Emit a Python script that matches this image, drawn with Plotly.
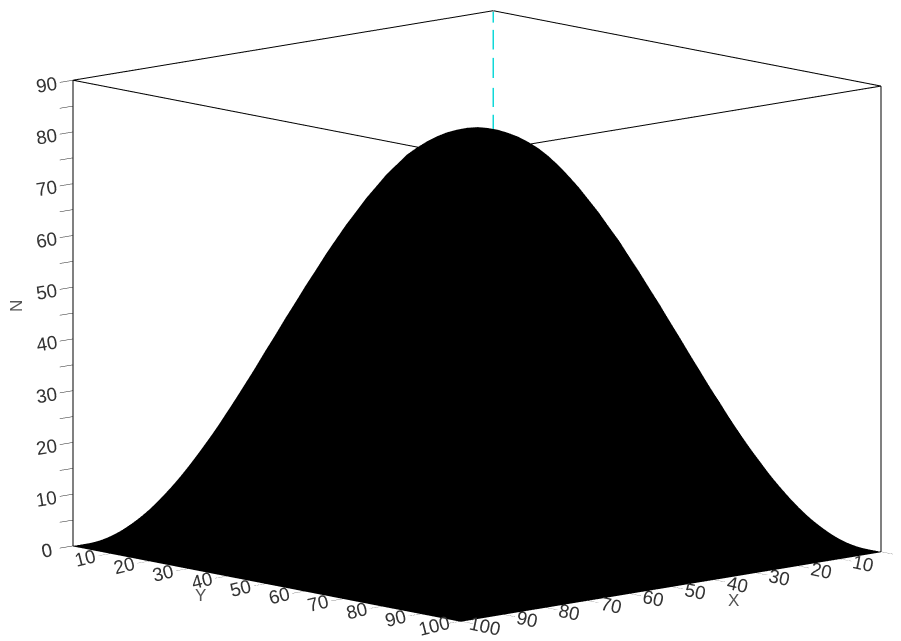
import plotly.graph_objects as go

x_values = [0, 2.5, 5, 7.5, 10, 12.5, 15, 17.5, 20, 22.5, 25, 27.5, 30, 32.5, 35, 37.5, 40, 42.5, 45, 47.5, 50, 52.5, 55, 57.5, 60, 62.5, 65, 67.5, 70, 72.5, 75, 77.5, 80, 82.5, 85, 87.5, 90, 92.5, 95, 97.5, 100]
y_values = [0, 2.5, 5, 7.5, 10, 12.5, 15, 17.5, 20, 22.5, 25, 27.5, 30, 32.5, 35, 37.5, 40, 42.5, 45, 47.5, 50, 52.5, 55, 57.5, 60, 62.5, 65, 67.5, 70, 72.5, 75, 77.5, 80, 82.5, 85, 87.5, 90, 92.5, 95, 97.5, 100]
n_values = [
 [0]*41,
 [0,.5,1.0,1.5,2.0,2.5,2.9,3.4,3.8,4.2,4.5,4.9,5.2,5.5,5.7,5.9,6.1,6.2,6.3,6.4,6.4,6.4,6.3,6.2,6.1,5.9,5.7,5.5,5.2,4.9,4.5,4.2,3.8,3.4,2.9,2.5,2.0,1.5,1.0,.5,0],
 [0,1.0,2.0,3.0,4.0,4.9,5.8,6.7,7.5,8.3,9.0,9.7,10.3,10.9,11.4,11.8,12.2,12.4,12.6,12.8,12.8,12.8,12.6,12.4,12.2,11.8,11.4,10.9,10.3,9.7,9.0,8.3,7.5,6.7,5.8,4.9,4.0,3.0,2.0,1.0,0],
 [0,1.5,3.0,4.5,5.9,7.3,8.7,10.0,11.2,12.4,13.5,14.5,15.4,16.3,17.0,17.6,18.2,18.6,18.9,19.0,19.1,19.0,18.9,18.6,18.2,17.6,17.0,16.3,15.4,14.5,13.5,12.4,11.2,10.0,8.7,7.3,5.9,4.5,3.0,1.5,0],
 [0,2.0,4.0,5.9,7.8,9.7,11.5,13.2,14.9,16.4,17.9,19.2,20.5,21.6,22.5,23.4,24.0,24.6,25.0,25.2,25.3,25.2,25.0,24.6,24.0,23.4,22.5,21.6,20.5,19.2,17.9,16.4,14.9,13.2,11.5,9.7,7.8,5.9,4.0,2.0,0],
 [0,2.5,4.9,7.3,9.7,12.0,14.2,16.4,18.4,20.3,22.1,23.8,25.3,26.7,27.9,28.9,29.8,30.4,30.9,31.2,31.3,31.2,30.9,30.4,29.8,28.9,27.9,26.7,25.3,23.8,22.1,20.3,18.4,16.4,14.2,12.0,9.7,7.3,4.9,2.5,0],
 [0,2.9,5.8,8.7,11.5,14.2,16.9,19.4,21.8,24.1,26.3,28.2,30.0,31.7,33.1,34.3,35.3,36.1,36.7,37.0,37.1,37.0,36.7,36.1,35.3,34.3,33.1,31.7,30.0,28.2,26.3,24.1,21.8,19.4,16.9,14.2,11.5,8.7,5.8,2.9,0],
 [0,3.4,6.7,10.0,13.2,16.4,19.4,22.3,25.1,27.8,30.2,32.5,34.6,36.4,38.1,39.5,40.6,41.6,42.2,42.6,42.7,42.6,42.2,41.6,40.6,39.5,38.1,36.4,34.6,32.5,30.2,27.8,25.1,22.3,19.4,16.4,13.2,10.0,6.7,3.4,0],
 [0,3.8,7.5,11.2,14.9,18.4,21.8,25.1,28.3,31.2,34.0,36.6,38.9,41.0,42.8,44.4,45.7,46.8,47.5,47.9,48.1,47.9,47.5,46.8,45.7,44.4,42.8,41.0,38.9,36.6,34.0,31.2,28.3,25.1,21.8,18.4,14.9,11.2,7.5,3.8,0],
 [0,4.2,8.3,12.4,16.4,20.3,24.1,27.8,31.2,34.5,37.6,40.4,43.0,45.3,47.3,49.1,50.5,51.7,52.5,53.0,53.1,53.0,52.5,51.7,50.5,49.1,47.3,45.3,43.0,40.4,37.6,34.5,31.2,27.8,24.1,20.3,16.4,12.4,8.3,4.2,0],
 [0,4.5,9.0,13.5,17.9,22.1,26.3,30.2,34.0,37.6,40.9,44.0,46.8,49.3,51.5,53.4,55.0,56.2,57.1,57.7,57.8,57.7,57.1,56.2,55.0,53.4,51.5,49.3,46.8,44.0,40.9,37.6,34.0,30.2,26.3,22.1,17.9,13.5,9.0,4.5,0],
 [0,4.9,9.7,14.5,19.2,23.8,28.2,32.5,36.6,40.4,44.0,47.3,50.3,53.0,55.4,57.5,59.2,60.5,61.4,62.0,62.2,62.0,61.4,60.5,59.2,57.5,55.4,53.0,50.3,47.3,44.0,40.4,36.6,32.5,28.2,23.8,19.2,14.5,9.7,4.9,0],
 [0,5.2,10.3,15.4,20.5,25.3,30.0,34.6,38.9,43.0,46.8,50.3,53.5,56.4,59.0,61.1,62.9,64.4,65.4,66.0,66.2,66.0,65.4,64.4,62.9,61.1,59.0,56.4,53.5,50.3,46.8,43.0,38.9,34.6,30.0,25.3,20.5,15.4,10.3,5.2,0],
 [0,5.5,10.9,16.3,21.6,26.7,31.7,36.4,41.0,45.3,49.3,53.0,56.4,59.5,62.1,64.4,66.3,67.8,68.9,69.5,69.7,69.5,68.9,67.8,66.3,64.4,62.1,59.5,56.4,53.0,49.3,45.3,41.0,36.4,31.7,26.7,21.6,16.3,10.9,5.5,0],
 [0,5.7,11.4,17.0,22.5,27.9,33.1,38.1,42.8,47.3,51.5,55.4,59.0,62.1,64.9,67.3,69.3,70.9,72.0,72.7,72.9,72.7,72.0,70.9,69.3,67.3,64.9,62.1,59.0,55.4,51.5,47.3,42.8,38.1,33.1,27.9,22.5,17.0,11.4,5.7,0],
 [0,5.9,11.8,17.6,23.4,28.9,34.3,39.5,44.4,49.1,53.4,57.5,61.1,64.4,67.3,69.8,71.9,73.5,74.6,75.3,75.6,75.3,74.6,73.5,71.9,69.8,67.3,64.4,61.1,57.5,53.4,49.1,44.4,39.5,34.3,28.9,23.4,17.6,11.8,5.9,0],
 [0,6.1,12.2,18.2,24.0,29.8,35.3,40.6,45.7,50.5,55.0,59.2,62.9,66.3,69.3,71.9,74.0,75.7,76.8,77.6,77.8,77.6,76.8,75.7,74.0,71.9,69.3,66.3,62.9,59.2,55.0,50.5,45.7,40.6,35.3,29.8,24.0,18.2,12.2,6.1,0],
 [0,6.2,12.4,18.6,24.6,30.4,36.1,41.6,46.8,51.7,56.2,60.5,64.4,67.8,70.9,73.5,75.7,77.1,78.3,79.0,79.2,79.0,78.3,77.1,75.7,73.5,70.9,67.8,64.4,60.5,56.2,51.7,46.8,41.6,36.1,30.4,24.6,18.6,12.4,6.2,0],
 [0,6.3,12.6,18.9,25.0,30.9,36.7,42.2,47.5,52.5,57.1,61.4,65.4,68.9,72.0,74.6,76.8,78.3,79.4,80.1,80.3,80.1,79.4,78.3,76.8,74.6,72.0,68.9,65.4,61.4,57.1,52.5,47.5,42.2,36.7,30.9,25.0,18.9,12.6,6.3,0],
 [0,6.4,12.8,19.0,25.2,31.2,37.0,42.6,47.9,53.0,57.7,62.0,66.0,69.5,72.7,75.3,77.6,79.0,80.1,80.8,81.0,80.8,80.1,79.0,77.6,75.3,72.7,69.5,66.0,62.0,57.7,53.0,47.9,42.6,37.0,31.2,25.2,19.0,12.8,6.4,0],
 [0,6.4,12.8,19.1,25.3,31.3,37.1,42.7,48.1,53.1,57.8,62.2,66.2,69.7,72.9,75.6,77.8,79.2,80.3,81.0,81.2,81.0,80.3,79.2,77.8,75.6,72.9,69.7,66.2,62.2,57.8,53.1,48.1,42.7,37.1,31.3,25.3,19.1,12.8,6.4,0],
 [0,6.4,12.8,19.0,25.2,31.2,37.0,42.6,47.9,53.0,57.7,62.0,66.0,69.5,72.7,75.3,77.6,79.0,80.1,80.8,81.0,80.8,80.1,79.0,77.6,75.3,72.7,69.5,66.0,62.0,57.7,53.0,47.9,42.6,37.0,31.2,25.2,19.0,12.8,6.4,0],
 [0,6.3,12.6,18.9,25.0,30.9,36.7,42.2,47.5,52.5,57.1,61.4,65.4,68.9,72.0,74.6,76.8,78.3,79.4,80.1,80.3,80.1,79.4,78.3,76.8,74.6,72.0,68.9,65.4,61.4,57.1,52.5,47.5,42.2,36.7,30.9,25.0,18.9,12.6,6.3,0],
 [0,6.2,12.4,18.6,24.6,30.4,36.1,41.6,46.8,51.7,56.2,60.5,64.4,67.8,70.9,73.5,75.7,77.1,78.3,79.0,79.2,79.0,78.3,77.1,75.7,73.5,70.9,67.8,64.4,60.5,56.2,51.7,46.8,41.6,36.1,30.4,24.6,18.6,12.4,6.2,0],
 [0,6.1,12.2,18.2,24.0,29.8,35.3,40.6,45.7,50.5,55.0,59.2,62.9,66.3,69.3,71.9,74.0,75.7,76.8,77.6,77.8,77.6,76.8,75.7,74.0,71.9,69.3,66.3,62.9,59.2,55.0,50.5,45.7,40.6,35.3,29.8,24.0,18.2,12.2,6.1,0],
 [0,5.9,11.8,17.6,23.4,28.9,34.3,39.5,44.4,49.1,53.4,57.5,61.1,64.4,67.3,69.8,71.9,73.5,74.6,75.3,75.6,75.3,74.6,73.5,71.9,69.8,67.3,64.4,61.1,57.5,53.4,49.1,44.4,39.5,34.3,28.9,23.4,17.6,11.8,5.9,0],
 [0,5.7,11.4,17.0,22.5,27.9,33.1,38.1,42.8,47.3,51.5,55.4,59.0,62.1,64.9,67.3,69.3,70.9,72.0,72.7,72.9,72.7,72.0,70.9,69.3,67.3,64.9,62.1,59.0,55.4,51.5,47.3,42.8,38.1,33.1,27.9,22.5,17.0,11.4,5.7,0],
 [0,5.5,10.9,16.3,21.6,26.7,31.7,36.4,41.0,45.3,49.3,53.0,56.4,59.5,62.1,64.4,66.3,67.8,68.9,69.5,69.7,69.5,68.9,67.8,66.3,64.4,62.1,59.5,56.4,53.0,49.3,45.3,41.0,36.4,31.7,26.7,21.6,16.3,10.9,5.5,0],
 [0,5.2,10.3,15.4,20.5,25.3,30.0,34.6,38.9,43.0,46.8,50.3,53.5,56.4,59.0,61.1,62.9,64.4,65.4,66.0,66.2,66.0,65.4,64.4,62.9,61.1,59.0,56.4,53.5,50.3,46.8,43.0,38.9,34.6,30.0,25.3,20.5,15.4,10.3,5.2,0],
 [0,4.9,9.7,14.5,19.2,23.8,28.2,32.5,36.6,40.4,44.0,47.3,50.3,53.0,55.4,57.5,59.2,60.5,61.4,62.0,62.2,62.0,61.4,60.5,59.2,57.5,55.4,53.0,50.3,47.3,44.0,40.4,36.6,32.5,28.2,23.8,19.2,14.5,9.7,4.9,0],
 [0,4.5,9.0,13.5,17.9,22.1,26.3,30.2,34.0,37.6,40.9,44.0,46.8,49.3,51.5,53.4,55.0,56.2,57.1,57.7,57.8,57.7,57.1,56.2,55.0,53.4,51.5,49.3,46.8,44.0,40.9,37.6,34.0,30.2,26.3,22.1,17.9,13.5,9.0,4.5,0],
 [0,4.2,8.3,12.4,16.4,20.3,24.1,27.8,31.2,34.5,37.6,40.4,43.0,45.3,47.3,49.1,50.5,51.7,52.5,53.0,53.1,53.0,52.5,51.7,50.5,49.1,47.3,45.3,43.0,40.4,37.6,34.5,31.2,27.8,24.1,20.3,16.4,12.4,8.3,4.2,0],
 [0,3.8,7.5,11.2,14.9,18.4,21.8,25.1,28.3,31.2,34.0,36.6,38.9,41.0,42.8,44.4,45.7,46.8,47.5,47.9,48.1,47.9,47.5,46.8,45.7,44.4,42.8,41.0,38.9,36.6,34.0,31.2,28.3,25.1,21.8,18.4,14.9,11.2,7.5,3.8,0],
 [0,3.4,6.7,10.0,13.2,16.4,19.4,22.3,25.1,27.8,30.2,32.5,34.6,36.4,38.1,39.5,40.6,41.6,42.2,42.6,42.7,42.6,42.2,41.6,40.6,39.5,38.1,36.4,34.6,32.5,30.2,27.8,25.1,22.3,19.4,16.4,13.2,10.0,6.7,3.4,0],
 [0,2.9,5.8,8.7,11.5,14.2,16.9,19.4,21.8,24.1,26.3,28.2,30.0,31.7,33.1,34.3,35.3,36.1,36.7,37.0,37.1,37.0,36.7,36.1,35.3,34.3,33.1,31.7,30.0,28.2,26.3,24.1,21.8,19.4,16.9,14.2,11.5,8.7,5.8,2.9,0],
 [0,2.5,4.9,7.3,9.7,12.0,14.2,16.4,18.4,20.3,22.1,23.8,25.3,26.7,27.9,28.9,29.8,30.4,30.9,31.2,31.3,31.2,30.9,30.4,29.8,28.9,27.9,26.7,25.3,23.8,22.1,20.3,18.4,16.4,14.2,12.0,9.7,7.3,4.9,2.5,0],
 [0,2.0,4.0,5.9,7.8,9.7,11.5,13.2,14.9,16.4,17.9,19.2,20.5,21.6,22.5,23.4,24.0,24.6,25.0,25.2,25.3,25.2,25.0,24.6,24.0,23.4,22.5,21.6,20.5,19.2,17.9,16.4,14.9,13.2,11.5,9.7,7.8,5.9,4.0,2.0,0],
 [0,1.5,3.0,4.5,5.9,7.3,8.7,10.0,11.2,12.4,13.5,14.5,15.4,16.3,17.0,17.6,18.2,18.6,18.9,19.0,19.1,19.0,18.9,18.6,18.2,17.6,17.0,16.3,15.4,14.5,13.5,12.4,11.2,10.0,8.7,7.3,5.9,4.5,3.0,1.5,0],
 [0,1.0,2.0,3.0,4.0,4.9,5.8,6.7,7.5,8.3,9.0,9.7,10.3,10.9,11.4,11.8,12.2,12.4,12.6,12.8,12.8,12.8,12.6,12.4,12.2,11.8,11.4,10.9,10.3,9.7,9.0,8.3,7.5,6.7,5.8,4.9,4.0,3.0,2.0,1.0,0],
 [0,.5,1.0,1.5,2.0,2.5,2.9,3.4,3.8,4.2,4.5,4.9,5.2,5.5,5.7,5.9,6.1,6.2,6.3,6.4,6.4,6.4,6.3,6.2,6.1,5.9,5.7,5.5,5.2,4.9,4.5,4.2,3.8,3.4,2.9,2.5,2.0,1.5,1.0,.5,0],
 [0]*41,
]
xy_ticks = [0, 10, 20, 30, 40, 50, 60, 70, 80, 90, 100]
z_ticks = [0, 5, 10, 15, 20, 25, 30, 35, 40, 45, 50, 55, 60, 65, 70, 75, 80, 85, 90]
z_labels = ["0", "", "10", "", "20", "", "30", "", "40", "", "50", "", "60", "", "70", "", "80", "", "90"]
dash_z = [89.8, 87.7, None, 86.3, 82.5, None, 80.9, 77.0, None, 75.1, 71.4, None, 69.9, 66.0]
XMAX, YMAX, ZMAX = 100, 100, 90

fig = go.Figure()
fig.add_trace(go.Surface(x=x_values, y=y_values, z=n_values, showscale=False,
    colorscale=[[0, "#000000"], [1, "#000000"]], hoverinfo="skip",
    lighting=dict(ambient=1, diffuse=0, specular=0, roughness=1, fresnel=0)))
fig.add_trace(go.Scatter3d(x=[0, XMAX, XMAX, 0, 0], y=[0, 0, YMAX, YMAX, 0], z=[ZMAX]*5,
    mode="lines", line=dict(color="#000000", width=2), hoverinfo="skip", showlegend=False))
fig.add_trace(go.Scatter3d(x=[XMAX, XMAX], y=[0, 0], z=[0, ZMAX],
    mode="lines", line=dict(color="#000000", width=2), hoverinfo="skip", showlegend=False))
fig.add_trace(go.Scatter3d(x=[0, 0], y=[YMAX, YMAX], z=[0, ZMAX],
    mode="lines", line=dict(color="#000000", width=2), hoverinfo="skip", showlegend=False))
fig.add_trace(go.Scatter3d(x=[0]*len(dash_z), y=[0]*len(dash_z), z=dash_z, connectgaps=False,
    mode="lines", line=dict(color="#10d8d8", width=3), hoverinfo="skip", showlegend=False))

font = dict(family="Liberation Sans, Arial, sans-serif", size=15, color="#333333")
title_font = dict(family="Liberation Sans, Arial, sans-serif", size=17, color="#555555")
axis = dict(showgrid=False, zeroline=False, showbackground=False, showspikes=False,
            showline=True, linecolor="#000000", linewidth=2, ticks="outside",
            tickcolor="#222222", tickfont=font, autorange=False, title=dict(text=""))
fig.update_layout(
    width=901, height=641, margin=dict(l=0, r=0, t=0, b=0),
    paper_bgcolor="white", showlegend=False,
    scene=dict(
        domain=dict(x=[0, 1], y=[0, 1]),
        xaxis=dict(axis, range=[0, XMAX], tickvals=xy_ticks, tickangle=12, ticklen=18),
        yaxis=dict(axis, range=[0, YMAX], tickvals=xy_ticks, tickangle=-14, ticklen=18),
        zaxis=dict(axis, range=[0, ZMAX], tickvals=z_ticks, ticktext=z_labels, ticklen=24),
        aspectmode="manual", aspectratio=dict(x=1.784, y=1.784, z=1.477),
        camera=dict(projection=dict(type="orthographic"), up=dict(x=0, y=0, z=1),
                    center=dict(x=0.0471, y=-0.034, z=-0.0384),
                    eye=dict(x=1.381, y=1.412, z=0.320)),
    ),
    annotations=[
        dict(text="X", x=725/901, y=1-592/641, xref="paper", yref="paper", xanchor="center", yanchor="middle", showarrow=False, font=title_font),
        dict(text="Y", x=192/901, y=1-587/641, xref="paper", yref="paper", xanchor="center", yanchor="middle", showarrow=False, font=title_font),
        dict(text="N", x=8/901, y=1-298/641, xref="paper", yref="paper", xanchor="center", yanchor="middle", showarrow=False, textangle=-90, font=title_font),
    ],
)
fig.write_html("out.html")
